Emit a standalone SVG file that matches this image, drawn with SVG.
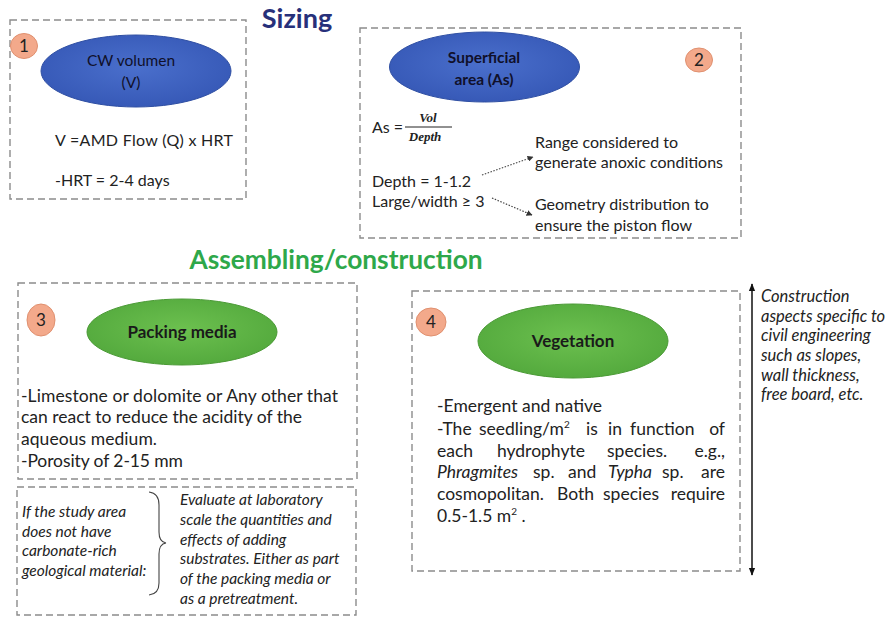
<svg xmlns="http://www.w3.org/2000/svg" width="894" height="621" viewBox="0 0 894 621">
<defs>
<radialGradient id="gBlue" cx="50%" cy="45%" r="60%"><stop offset="0" stop-color="#4a6fcc"/><stop offset="1" stop-color="#3557b5"/></radialGradient>
<radialGradient id="gGreen" cx="50%" cy="45%" r="60%"><stop offset="0" stop-color="#6cc04f"/><stop offset="1" stop-color="#52a83c"/></radialGradient>
<marker id="aDot" viewBox="0 0 10 10" refX="9" refY="5" markerWidth="6" markerHeight="6" orient="auto" markerUnits="userSpaceOnUse"><path d="M0,0 L10,5 L0,10 z" fill="#333"/></marker>
<marker id="aEnd" viewBox="0 0 10 10" refX="9" refY="5" markerWidth="8" markerHeight="8" orient="auto-start-reverse" markerUnits="userSpaceOnUse"><path d="M0,1 L10,5 L0,9 z" fill="#111"/></marker>
</defs>
<style>
.box{fill:none;stroke:#8c8c8c;stroke-width:1.4;stroke-dasharray:7 4}
.badge{fill:#f3a98b;stroke:#e0906f;stroke-width:1}
.bt{font-family:Lato,"Liberation Sans",sans-serif;font-size:17px;fill:#222;text-anchor:middle}
.el{font-family:Lato,"Liberation Sans",sans-serif;font-size:15.5px;fill:#10102a;text-anchor:middle}
.elb{font-family:Lato,"Liberation Sans",sans-serif;font-size:17px;font-weight:bold;fill:#1a1a1a;text-anchor:middle}
.t{font-family:Lato,"Liberation Sans",sans-serif;font-size:16px;fill:#222}
.t17{font-family:Lato,"Liberation Sans",sans-serif;font-size:17.5px;fill:#222}
.ti{font-family:Lato,"Liberation Sans",sans-serif;font-size:15.5px;font-style:italic;fill:#222}
.tn{font-family:Lato,"Liberation Sans",sans-serif;font-size:16.5px;font-style:italic;fill:#222}
.frac{font-family:"Liberation Serif",serif;font-size:13px;font-style:italic;font-weight:bold;fill:#222;text-anchor:middle}
.sup{font-size:10px}
</style>
<rect width="894" height="621" fill="#fff"/>
<text x="297" y="28" font-family="Lato,'Liberation Sans',sans-serif" font-size="27" font-weight="bold" fill="#27307a" text-anchor="middle">Sizing</text>
<text x="336" y="269" font-family="Lato,'Liberation Sans',sans-serif" font-size="26.3" font-weight="bold" fill="#2ea84a" text-anchor="middle">Assembling/construction</text>

<g id="node1">
<rect class="box" x="10" y="20" width="236" height="179"/>
<ellipse cx="136" cy="71" rx="95" ry="36" fill="url(#gBlue)" stroke="#2f4fa3" stroke-width="1"/>
<text class="el" x="131" y="66">CW volumen</text>
<text class="el" x="131" y="88">(V)</text>
<ellipse class="badge" cx="24" cy="46" rx="13.5" ry="12.5"/>
<text class="bt" x="24" y="52">1</text>
<text class="t" x="55" y="146" font-size="17" textLength="178" lengthAdjust="spacing">V =AMD Flow (Q) x HRT</text>
<text class="t" x="55" y="186" font-size="17">-HRT = 2-4 days</text>
</g>

<g id="node2">
<rect class="box" x="360" y="28" width="381" height="210"/>
<ellipse cx="484.5" cy="67" rx="95" ry="35" fill="url(#gBlue)" stroke="#2f4fa3" stroke-width="1"/>
<text class="el" x="484" y="63" font-weight="bold">Superficial</text>
<text class="el" x="484" y="85" font-weight="bold">area (As)</text>
<ellipse class="badge" cx="699" cy="60" rx="13.5" ry="12"/>
<text class="bt" x="699" y="66">2</text>
<text class="t" x="372" y="133">As =</text>
<text class="frac" x="428" y="122">Vol</text>
<line x1="405" y1="127" x2="452" y2="127" stroke="#222" stroke-width="1"/>
<text class="frac" x="425" y="141">Depth</text>
<text class="t" x="372" y="187">Depth = 1-1.2</text>
<text class="t" x="372" y="207">Large/width ≥ 3</text>
<text class="t" x="535" y="148">Range considered to</text>
<text class="t" x="535" y="168">generate anoxic conditions</text>
<text class="t" x="535" y="210">Geometry distribution to</text>
<text class="t" x="535" y="231">ensure the piston flow</text>
</g>

<g id="node3">
<rect class="box" x="18" y="283" width="339" height="196"/>
<ellipse cx="182" cy="332" rx="95" ry="33" fill="url(#gGreen)" stroke="#4a9a35" stroke-width="1"/>
<text class="elb" x="182" y="338">Packing media</text>
<ellipse class="badge" cx="41" cy="320" rx="14" ry="16"/>
<text class="bt" x="41" y="326">3</text>
<text class="t17" x="21" y="402" textLength="317" lengthAdjust="spacing">-Limestone or dolomite or Any other that</text>
<text class="t17" x="21" y="423" textLength="281" lengthAdjust="spacing">can react to reduce the acidity of the</text>
<text class="t17" x="21" y="445" textLength="136" lengthAdjust="spacing">aqueous medium.</text>
<text class="t17" x="21" y="467" textLength="162" lengthAdjust="spacing">-Porosity of 2-15 mm</text>
</g>

<g id="node3b">
<rect class="box" x="17" y="487" width="339" height="128"/>
<text class="ti" x="22" y="517">If the study area</text>
<text class="ti" x="22" y="537">does not have</text>
<text class="ti" x="22" y="556">carbonate-rich</text>
<text class="ti" x="22" y="576">geological material:</text>
<path d="M149,492 Q159,493 159,505 L159,532 Q159,542 166,543 Q159,544 159,554 L159,583 Q159,594 149,595" fill="none" stroke="#444" stroke-width="1.1"/>
<text class="ti" x="180" y="505">Evaluate at laboratory</text>
<text class="ti" x="180" y="525">scale the quantities and</text>
<text class="ti" x="180" y="545">effects of adding</text>
<text class="ti" x="180" y="564">substrates. Either as part</text>
<text class="ti" x="180" y="584">of the packing media or</text>
<text class="ti" x="180" y="604">as a pretreatment.</text>
</g>

<g id="node4">
<rect class="box" x="412" y="291" width="328" height="280"/>
<ellipse cx="573" cy="341" rx="95" ry="37" fill="url(#gGreen)" stroke="#4a9a35" stroke-width="1"/>
<text class="elb" x="573" y="347">Vegetation</text>
<ellipse class="badge" cx="431" cy="322" rx="15" ry="14"/>
<text class="bt" x="431" y="328">4</text>
<text class="t17" x="437" y="412" textLength="165" lengthAdjust="spacing">-Emergent and native</text>
<text class="t17" y="435"><tspan x="437">-The</tspan><tspan x="479">seedling/m</tspan><tspan class="sup" dy="-7">2</tspan><tspan x="586" dy="7">is</tspan><tspan x="608">in</tspan><tspan x="630">function</tspan><tspan x="725" text-anchor="end">of</tspan></text>
<text class="t17" y="457"><tspan x="437">each</tspan><tspan x="497">hydrophyte</tspan><tspan x="607">species.</tspan><tspan x="725" text-anchor="end">e.g.,</tspan></text>
<text class="t17" y="478"><tspan x="437" font-style="italic">Phragmites</tspan><tspan x="533">sp.</tspan><tspan x="568">and</tspan><tspan x="608" font-style="italic">Typha</tspan><tspan x="662">sp.</tspan><tspan x="725" text-anchor="end">are</tspan></text>
<text class="t17" y="500"><tspan x="437">cosmopolitan.</tspan><tspan x="557">Both</tspan><tspan x="603">species</tspan><tspan x="725" text-anchor="end">require</tspan></text>
<text class="t17" x="437" y="522">0.5-1.5 m<tspan class="sup" dy="-7">2</tspan><tspan dy="7"> .</tspan></text>
</g>

<g id="note">
<text class="tn" x="761" y="302">Construction</text>
<text class="tn" x="761" y="322">aspects specific to</text>
<text class="tn" x="761" y="341">civil engineering</text>
<text class="tn" x="761" y="361">such as slopes,</text>
<text class="tn" x="761" y="381">wall thickness,</text>
<text class="tn" x="761" y="400">free board, etc.</text>
</g>

<g id="connectors">
<line x1="482" y1="175" x2="533" y2="157" stroke="#444" stroke-width="1.2" stroke-dasharray="1.5 1.5" marker-end="url(#aDot)"/>
<line x1="492" y1="198" x2="532" y2="215" stroke="#444" stroke-width="1.2" stroke-dasharray="1.5 1.5" marker-end="url(#aDot)"/>
<line x1="752" y1="284" x2="752" y2="575" stroke="#111" stroke-width="1.5" marker-start="url(#aEnd)" marker-end="url(#aEnd)"/>
</g>
</svg>
